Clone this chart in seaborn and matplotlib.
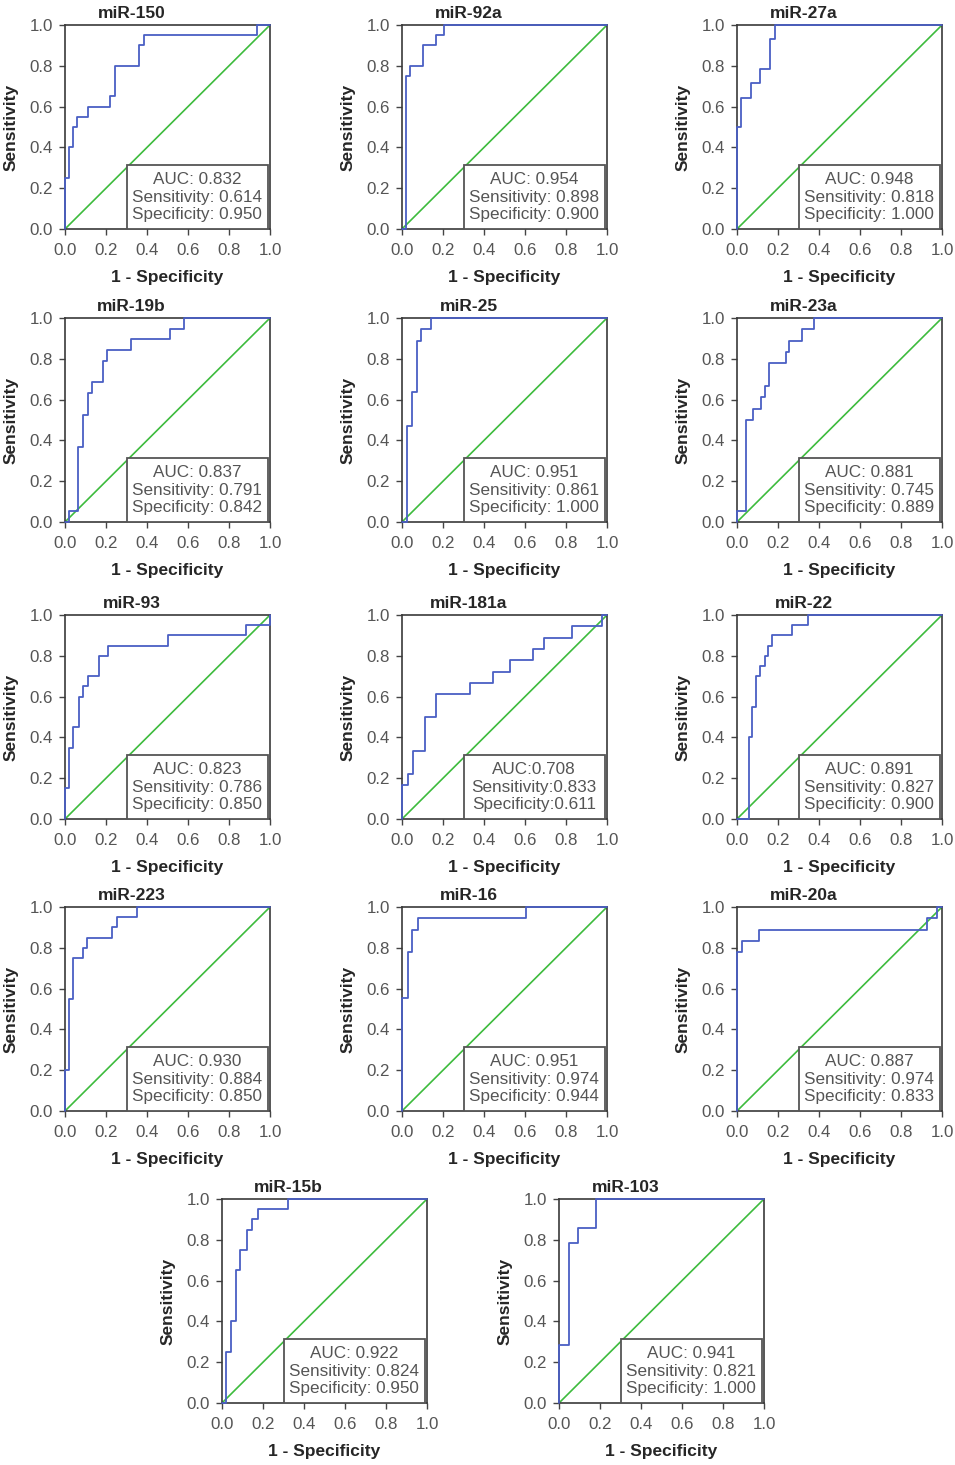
import numpy as np
import pandas as pd
import matplotlib
matplotlib.use("Agg")
import matplotlib.pyplot as plt
from matplotlib.patches import Rectangle
import seaborn as sns

# ROC curve corner points (1 - specificity, sensitivity)
mir150_fpr = [0, 0, 0.018, 0.038, 0.06, 0.11, 0.22, 0.245, 0.36, 0.385, 0.935, 1.0]
mir150_tpr = [0, 0.25, 0.40, 0.50, 0.55, 0.60, 0.65, 0.80, 0.90, 0.95, 1.0, 1.0]

mir92a_fpr = [0, 0.02, 0.04, 0.10, 0.165, 0.205, 1.0]
mir92a_tpr = [0, 0.75, 0.80, 0.90, 0.95, 1.0, 1.0]

mir27a_fpr = [0, 0, 0.02, 0.067, 0.114, 0.16, 0.186, 1.0]
mir27a_tpr = [0, 0.50, 0.643, 0.714, 0.786, 0.929, 1.0, 1.0]

mir19b_fpr = [0, 0.02, 0.064, 0.087, 0.111, 0.133, 0.183, 0.205, 0.324, 0.512, 0.579, 1.0]
mir19b_tpr = [0, 0.053, 0.368, 0.526, 0.632, 0.684, 0.789, 0.842, 0.895, 0.947, 1.0, 1.0]

mir25_fpr = [0, 0.023, 0.047, 0.072, 0.094, 0.141, 1.0]
mir25_tpr = [0, 0.472, 0.639, 0.889, 0.944, 1.0, 1.0]

mir23a_fpr = [0, 0, 0.042, 0.078, 0.116, 0.139, 0.158, 0.237, 0.255, 0.315, 0.376, 1.0]
mir23a_tpr = [0, 0.056, 0.50, 0.556, 0.611, 0.667, 0.778, 0.833, 0.889, 0.944, 1.0, 1.0]

mir93_fpr = [0, 0, 0.021, 0.041, 0.067, 0.09, 0.111, 0.164, 0.211, 0.50, 0.882, 1.0]
mir93_tpr = [0, 0.15, 0.35, 0.45, 0.60, 0.65, 0.70, 0.80, 0.85, 0.90, 0.95, 1.0]

mir181a_fpr = [0, 0, 0.028, 0.055, 0.111, 0.166, 0.332, 0.443, 0.526, 0.637, 0.692, 0.831, 0.974, 1.0]
mir181a_tpr = [0, 0.167, 0.222, 0.333, 0.50, 0.611, 0.667, 0.722, 0.778, 0.833, 0.889, 0.944, 1.0, 1.0]

mir22_fpr = [0, 0.057, 0.075, 0.095, 0.114, 0.136, 0.152, 0.173, 0.27, 0.346, 1.0]
mir22_tpr = [0, 0.40, 0.55, 0.70, 0.75, 0.80, 0.85, 0.90, 0.95, 1.0, 1.0]

mir223_fpr = [0, 0, 0.02, 0.039, 0.087, 0.108, 0.231, 0.252, 0.349, 1.0]
mir223_tpr = [0, 0.20, 0.55, 0.75, 0.80, 0.85, 0.90, 0.95, 1.0, 1.0]

mir16_fpr = [0, 0, 0.028, 0.05, 0.076, 0.603, 1.0]
mir16_tpr = [0, 0.556, 0.778, 0.889, 0.944, 1.0, 1.0]

mir20a_fpr = [0, 0, 0.026, 0.106, 0.925, 0.977, 1.0]
mir20a_tpr = [0, 0.778, 0.833, 0.889, 0.944, 1.0, 1.0]

mir15b_fpr = [0, 0.02, 0.045, 0.07, 0.09, 0.12, 0.145, 0.175, 0.32, 1.0]
mir15b_tpr = [0, 0.25, 0.40, 0.65, 0.75, 0.85, 0.90, 0.95, 1.0, 1.0]

mir103_fpr = [0, 0, 0.05, 0.095, 0.18, 1.0]
mir103_tpr = [0, 0.286, 0.786, 0.857, 1.0, 1.0]

names = ["miR-150", "miR-92a", "miR-27a", "miR-19b", "miR-25", "miR-23a",
         "miR-93", "miR-181a", "miR-22", "miR-223", "miR-16", "miR-20a",
         "miR-15b", "miR-103"]
auc_vals = [0.832, 0.954, 0.948, 0.837, 0.951, 0.881, 0.823, 0.708, 0.891,
            0.930, 0.951, 0.887, 0.922, 0.941]
sens_vals = [0.614, 0.898, 0.818, 0.791, 0.861, 0.745, 0.786, 0.833, 0.827,
             0.884, 0.974, 0.974, 0.824, 0.821]
spec_vals = [0.950, 0.900, 1.000, 0.842, 1.000, 0.889, 0.850, 0.611, 0.900,
             0.850, 0.944, 0.833, 0.950, 1.000]
no_space = ["miR-181a"]  # this panel's labels have no space after the colon

curves = [(mir150_fpr, mir150_tpr), (mir92a_fpr, mir92a_tpr), (mir27a_fpr, mir27a_tpr),
          (mir19b_fpr, mir19b_tpr), (mir25_fpr, mir25_tpr), (mir23a_fpr, mir23a_tpr),
          (mir93_fpr, mir93_tpr), (mir181a_fpr, mir181a_tpr), (mir22_fpr, mir22_tpr),
          (mir223_fpr, mir223_tpr), (mir16_fpr, mir16_tpr), (mir20a_fpr, mir20a_tpr),
          (mir15b_fpr, mir15b_tpr), (mir103_fpr, mir103_tpr)]

ticks = [0.0, 0.2, 0.4, 0.6, 0.8, 1.0]
tick_labels = ["0.0", "0.2", "0.4", "0.6", "0.8", "1.0"]

sns.set_style("ticks")
plt.rcParams["font.family"] = ["Liberation Sans", "DejaVu Sans"]

W, H = 955, 1465
fig = plt.figure(figsize=(W / 100, H / 100), dpi=100)

# panel placement in pixels (left, top)
col_left = [65, 402, 737]
row_top = [25, 318, 615, 907, 1199]
last_left = [222, 559]
ax_w, ax_h = 205, 204

blue = "#4a5fc4"
green = "#3dbb3d"
gray = "#555555"

for i, name in enumerate(names):
    r = i // 3
    if r < 4:
        left = col_left[i % 3]
    else:
        left = last_left[i - 12]
    top = row_top[r]
    ax = fig.add_axes([left / W, 1 - (top + ax_h) / H, ax_w / W, ax_h / H])

    fpr, tpr = curves[i]
    df = pd.DataFrame({"fpr": fpr, "tpr": tpr})

    sns.lineplot(x=[0, 1], y=[0, 1], color=green, lw=1.2, ax=ax, zorder=2)
    ax.add_patch(Rectangle((0.3, 0.0), 0.69, 0.315, transform=ax.transAxes,
                           facecolor="white", edgecolor=gray, lw=1.3, zorder=3))
    sns.lineplot(data=df, x="fpr", y="tpr", drawstyle="steps-post", estimator=None,
                 sort=False, color=blue, lw=1.3, ax=ax, zorder=4, clip_on=False)

    sep = "" if name in no_space else " "
    lines = [f"AUC:{sep}{auc_vals[i]:.3f}",
             f"Sensitivity:{sep}{sens_vals[i]:.3f}",
             f"Specificity:{sep}{spec_vals[i]:.3f}"]
    for k, txt in enumerate(lines):
        ax.text(0.645, 0.242 - k * 0.086, txt, transform=ax.transAxes,
                ha="center", va="center", fontsize=12.3, color=gray, zorder=5)

    ax.set_xlim(0, 1)
    ax.set_ylim(0, 1)
    ax.set_xticks(ticks)
    ax.set_xticklabels(tick_labels)
    ax.set_yticks(ticks)
    ax.set_yticklabels(tick_labels)
    ax.tick_params(labelsize=12.2, labelcolor=gray, color="#444444",
                   length=4, width=1, pad=4.5)
    ax.tick_params(axis="x", pad=6)
    for s in ax.spines.values():
        s.set_color("#3a3a3a")
        s.set_linewidth(1.2)
    ax.set_xlabel("1 - Specificity", fontsize=12.5, fontweight="bold", labelpad=9)
    ax.set_ylabel("Sensitivity", fontsize=12.5, fontweight="bold", labelpad=8)
    ax.set_title(name, x=0.325, fontsize=12.5, fontweight="bold", pad=5)

fig.savefig("out.png", dpi=100)
